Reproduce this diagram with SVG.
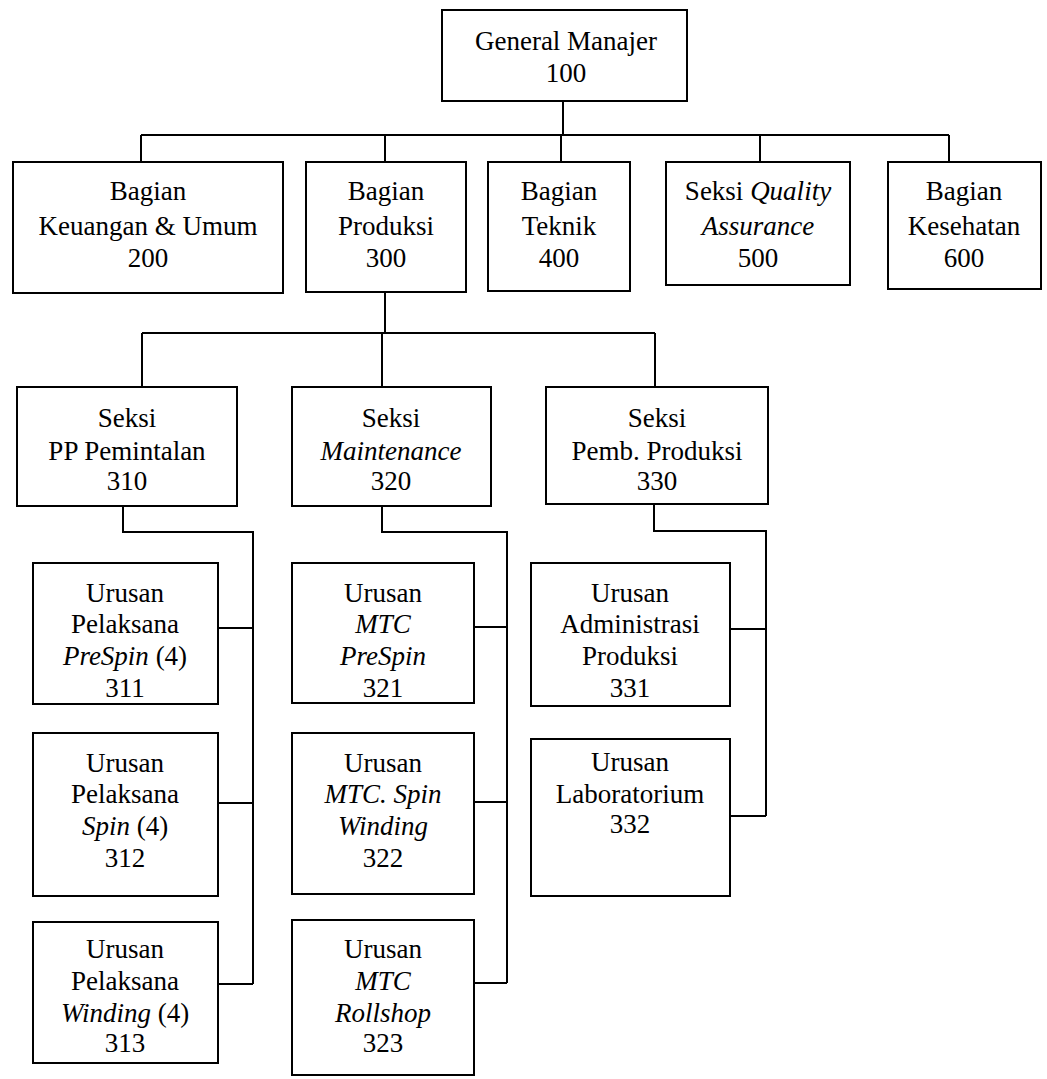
<svg xmlns="http://www.w3.org/2000/svg" width="1047" height="1079" viewBox="0 0 1047 1079">
  <style>
    .box { fill: #fff; stroke: #000; stroke-width: 2; }
    .wire { fill: none; stroke: #000; stroke-width: 2; }
    .lbl text { font-family: 'Liberation Serif', Tinos, 'Times New Roman', Times, 'Noto Serif', 'DejaVu Serif', 'Nimbus Roman', 'Nimbus Roman No9 L', FreeSerif, Georgia, serif; font-size: 27px; fill: #000; text-anchor: middle; }
    .it { font-style: italic; }
  </style>
  <rect width="1047" height="1079" fill="#fff"/>

  <!-- connectors -->
  <g id="connectors" class="wire">
    <!-- level 1 -> level 2 -->
    <path d="M563 101 V135"/>
    <path d="M141 135 H949"/>
    <path d="M141 135 V162 M385 135 V162 M561 135 V162 M760 135 V162 M949 135 V162"/>
    <!-- Produksi -> sections -->
    <path d="M385 292 V333"/>
    <path d="M142 333 H655"/>
    <path d="M142 333 V387 M382 333 V387 M655 333 V387"/>
    <!-- 310 branch -->
    <path d="M123 506 V532 H253 V984"/>
    <path d="M218 628 H253 M218 803 H253 M218 984 H253"/>
    <!-- 320 branch -->
    <path d="M382 506 V532 H507 V983"/>
    <path d="M474 627 H507 M474 802 H507 M474 983 H507"/>
    <!-- 330 branch -->
    <path d="M654 504 V531 H766 V816"/>
    <path d="M730 629 H766 M730 816 H766"/>
  </g>

  <g class="lbl">
  <!-- level 1 -->
  <g id="n100">
    <rect class="box" x="442" y="10" width="245" height="91"/>
    <text x="566" y="50">General Manajer</text>
    <text x="566" y="82">100</text>
  </g>

  <!-- level 2 -->
  <g id="n200">
    <rect class="box" x="13" y="162" width="270" height="131"/>
    <text x="148" y="200">Bagian</text>
    <text x="148" y="235">Keuangan &amp; Umum</text>
    <text x="148" y="267">200</text>
  </g>
  <g id="n300">
    <rect class="box" x="306" y="162" width="160" height="130"/>
    <text x="386" y="200">Bagian</text>
    <text x="386" y="235">Produksi</text>
    <text x="386" y="267">300</text>
  </g>
  <g id="n400">
    <rect class="box" x="488" y="162" width="142" height="129"/>
    <text x="559" y="200">Bagian</text>
    <text x="559" y="235">Teknik</text>
    <text x="559" y="267">400</text>
  </g>
  <g id="n500">
    <rect class="box" x="666" y="162" width="184" height="123"/>
    <text x="758" y="200">Seksi <tspan class="it">Quality</tspan></text>
    <text x="758" y="235" class="it">Assurance</text>
    <text x="758" y="267">500</text>
  </g>
  <g id="n600">
    <rect class="box" x="888" y="162" width="153" height="127"/>
    <text x="964" y="200">Bagian</text>
    <text x="964" y="235">Kesehatan</text>
    <text x="964" y="267">600</text>
  </g>

  <!-- level 3 -->
  <g id="n310">
    <rect class="box" x="17" y="387" width="220" height="119"/>
    <text x="127" y="427">Seksi</text>
    <text x="127" y="460">PP Pemintalan</text>
    <text x="127" y="490">310</text>
  </g>
  <g id="n320">
    <rect class="box" x="292" y="387" width="199" height="119"/>
    <text x="391" y="427">Seksi</text>
    <text x="391" y="460" class="it">Maintenance</text>
    <text x="391" y="490">320</text>
  </g>
  <g id="n330">
    <rect class="box" x="546" y="387" width="222" height="117"/>
    <text x="657" y="427">Seksi</text>
    <text x="657" y="460">Pemb. Produksi</text>
    <text x="657" y="490">330</text>
  </g>

  <!-- level 4: 310 -->
  <g id="n311">
    <rect class="box" x="33" y="563" width="185" height="141"/>
    <text x="125" y="602">Urusan</text>
    <text x="125" y="633">Pelaksana</text>
    <text x="125" y="665"><tspan class="it">PreSpin</tspan> (4)</text>
    <text x="125" y="697">311</text>
  </g>
  <g id="n312">
    <rect class="box" x="33" y="733" width="185" height="163"/>
    <text x="125" y="772">Urusan</text>
    <text x="125" y="803">Pelaksana</text>
    <text x="125" y="835"><tspan class="it">Spin</tspan> (4)</text>
    <text x="125" y="867">312</text>
  </g>
  <g id="n313">
    <rect class="box" x="33" y="922" width="185" height="141"/>
    <text x="125" y="958">Urusan</text>
    <text x="125" y="990">Pelaksana</text>
    <text x="125" y="1022"><tspan class="it">Winding</tspan> (4)</text>
    <text x="125" y="1052">313</text>
  </g>

  <!-- level 4: 320 -->
  <g id="n321">
    <rect class="box" x="292" y="563" width="182" height="140"/>
    <text x="383" y="602">Urusan</text>
    <text x="383" y="633" class="it">MTC</text>
    <text x="383" y="665" class="it">PreSpin</text>
    <text x="383" y="697">321</text>
  </g>
  <g id="n322">
    <rect class="box" x="292" y="733" width="182" height="161"/>
    <text x="383" y="772">Urusan</text>
    <text x="383" y="803" class="it">MTC. Spin</text>
    <text x="383" y="835" class="it">Winding</text>
    <text x="383" y="867">322</text>
  </g>
  <g id="n323">
    <rect class="box" x="292" y="920" width="182" height="155"/>
    <text x="383" y="958">Urusan</text>
    <text x="383" y="990" class="it">MTC</text>
    <text x="383" y="1022" class="it">Rollshop</text>
    <text x="383" y="1052">323</text>
  </g>

  <!-- level 4: 330 -->
  <g id="n331">
    <rect class="box" x="531" y="563" width="199" height="143"/>
    <text x="630" y="602">Urusan</text>
    <text x="630" y="633">Administrasi</text>
    <text x="630" y="665">Produksi</text>
    <text x="630" y="697">331</text>
  </g>
  <g id="n332">
    <rect class="box" x="531" y="739" width="199" height="157"/>
    <text x="630" y="771">Urusan</text>
    <text x="630" y="803">Laboratorium</text>
    <text x="630" y="833">332</text>
  </g>
  </g>
</svg>
